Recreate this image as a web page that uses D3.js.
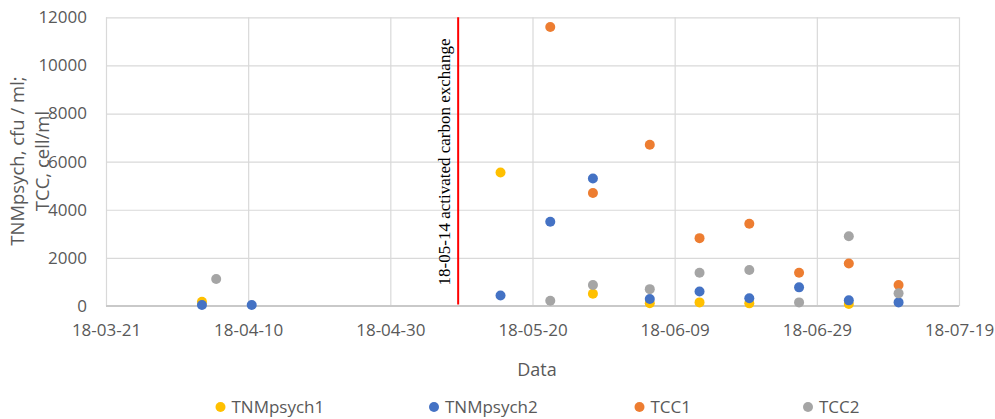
<!DOCTYPE html>
<html>
<head>
<meta charset="utf-8">
<script src="https://cdn.jsdelivr.net/npm/d3@7"></script>
<style>
  html, body { margin: 0; padding: 0; background: #fff; }
  svg { display: block; font-family: "Open Sans", sans-serif; }
</style>
</head>
<body>
<svg id="chart" width="995" height="419"></svg>
<script>
// Sampling dates (sampling done around midday)
const sampleDates = [
  "2018-04-03T12:00", "2018-04-05T12:00", "2018-04-10T12:00",
  "2018-05-15T12:00", "2018-05-22T12:00", "2018-05-28T12:00",
  "2018-06-05T12:00", "2018-06-12T12:00", "2018-06-19T12:00",
  "2018-06-26T12:00", "2018-07-03T12:00", "2018-07-10T12:00"
];

// Counts per sample (null = not measured)
const tnmPsych1 = [180, null, null, 5550, null, 510, 115, 150, 110, null, 80, null];
const tnmPsych2 = [45, null, 45, 440, 3500, 5300, 290, 600, 320, 775, 235, 150];
const tcc1      = [null, null, null, null, 11600, 4700, 6700, 2820, 3420, 1380, 1770, 870];
const tcc2      = [null, 1120, null, null, 220, 870, 700, 1380, 1500, 150, 2900, 525];

const seriesNames = ["TNMpsych1", "TNMpsych2", "TCC1", "TCC2"];
const seriesValues = [tnmPsych1, tnmPsych2, tcc1, tcc2];

const xTickLabels = ["18-03-21", "18-04-10", "18-04-30", "18-05-20", "18-06-09", "18-06-29", "18-07-19"];
const yTickValues = [0, 2000, 4000, 6000, 8000, 10000, 12000];

const exchangeDate = "2018-05-09T13:00";
const exchangeLabel = "18-05-14 activated carbon exchange";

// ---- layout & styles ----
const colors = ["#FFC000", "#4472C4", "#ED7D31", "#A5A5A5"];
const plot = { left: 106, right: 959, top: 17.3, bottom: 306 };
const textColor = "#595959";
const gridColor = "#d9d9d9";

const parseTick = d3.timeParse("%y-%m-%d");
const fmtTick = d3.timeFormat("%y-%m-%d");
const parseDate = s => new Date(s);
const tickDates = xTickLabels.map(parseTick);

const x = d3.scaleTime()
  .domain([tickDates[0], tickDates[tickDates.length - 1]])
  .range([plot.left, plot.right]);
const y = d3.scaleLinear()
  .domain([0, 12000])
  .range([plot.bottom, plot.top]);

const svg = d3.select("#chart");

// horizontal gridlines
svg.append("g")
  .attr("transform", `translate(${plot.left},0)`)
  .call(d3.axisLeft(y).tickValues(yTickValues).tickSize(-(plot.right - plot.left)).tickFormat(""))
  .call(g => g.select(".domain").remove())
  .call(g => g.selectAll(".tick line").attr("stroke", gridColor).attr("stroke-width", 1.2));

// vertical gridlines
svg.append("g")
  .attr("transform", `translate(0,${plot.bottom})`)
  .call(d3.axisBottom(x).tickValues(tickDates).tickSize(-(plot.bottom - plot.top)).tickFormat(""))
  .call(g => g.select(".domain").remove())
  .call(g => g.selectAll(".tick line").attr("stroke", gridColor).attr("stroke-width", 1.2));

// baseline
svg.append("line")
  .attr("x1", plot.left).attr("x2", plot.right)
  .attr("y1", y(0)).attr("y2", y(0))
  .attr("stroke", "#c9c9c9").attr("stroke-width", 1.8);

// y tick labels
svg.append("g")
  .attr("transform", `translate(${plot.left},0)`)
  .call(d3.axisLeft(y).tickValues(yTickValues).tickSize(0).tickPadding(19).tickFormat(d3.format("d")))
  .call(g => g.select(".domain").remove())
  .call(g => g.selectAll("text")
    .attr("fill", textColor)
    .style("font-family", '"Open Sans", sans-serif')
    .style("font-size", "17px"));

// x tick labels
svg.append("g")
  .attr("transform", `translate(0,${plot.bottom})`)
  .call(d3.axisBottom(x).tickValues(tickDates).tickSize(0).tickPadding(18).tickFormat(fmtTick))
  .call(g => g.select(".domain").remove())
  .call(g => g.selectAll("text")
    .attr("fill", textColor)
    .style("font-family", '"Open Sans", sans-serif')
    .style("font-size", "17px"));

// axis titles
svg.append("text")
  .attr("x", 537).attr("y", 376)
  .attr("text-anchor", "middle")
  .attr("fill", textColor)
  .style("font-size", "18px")
  .text("Data");

const yTitle = svg.append("text")
  .attr("transform", "translate(0,161) rotate(-90)")
  .attr("text-anchor", "middle")
  .attr("fill", textColor)
  .style("font-size", "18.5px");
yTitle.append("tspan").attr("x", 0).attr("y", 24).text("TNMpsych, cfu / ml;");
yTitle.append("tspan").attr("x", 0).attr("y", 49).text("TCC, cell/ml");

// activated carbon exchange marker
const ex = x(parseDate(exchangeDate));
svg.append("line")
  .attr("x1", ex).attr("x2", ex)
  .attr("y1", plot.top).attr("y2", y(0) - 1.5)
  .attr("stroke", "#ff0000").attr("stroke-width", 2);
svg.append("text")
  .attr("transform", `translate(${ex - 8},162) rotate(-90)`)
  .attr("text-anchor", "middle")
  .attr("fill", "#000")
  .style("font-family", '"Liberation Serif", "Times New Roman", serif')
  .style("font-size", "17px")
  .text(exchangeLabel);

// scatter points
seriesValues.forEach((vals, i) => {
  const pts = vals.map((v, j) => ({ date: parseDate(sampleDates[j]), value: v }))
    .filter(d => d.value !== null);
  svg.append("g")
    .selectAll("circle")
    .data(pts)
    .join("circle")
    .attr("cx", d => x(d.date))
    .attr("cy", d => y(d.value))
    .attr("r", 5)
    .attr("fill", colors[i]);
});

// legend
const legendX = [220.5, 434, 639.5, 808];
const legend = svg.append("g");
seriesNames.forEach((name, i) => {
  const g = legend.append("g").attr("transform", `translate(${legendX[i]},407)`);
  g.append("circle").attr("r", 5).attr("fill", colors[i]);
  g.append("text")
    .attr("x", 11).attr("y", 6.3)
    .attr("fill", textColor)
    .style("font-size", "17px")
    .text(name);
});
</script>
</body>
</html>
